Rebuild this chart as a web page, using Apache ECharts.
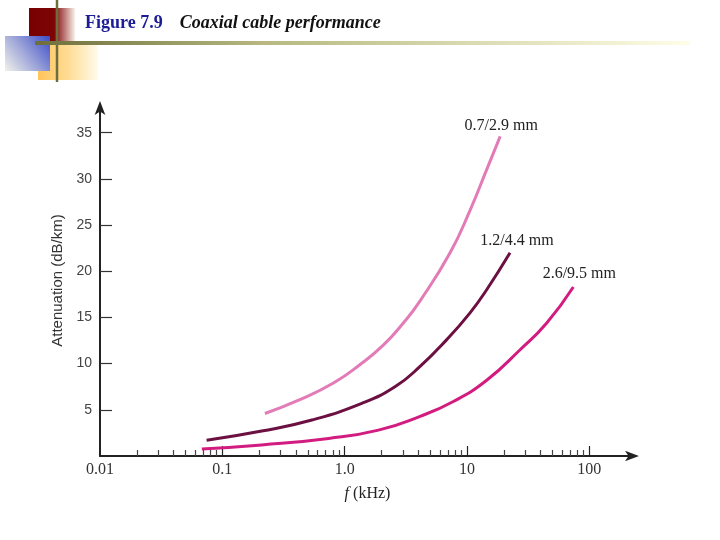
<!DOCTYPE html>
<html><head><meta charset="utf-8">
<script src="https://cdn.jsdelivr.net/npm/echarts@6/dist/echarts.min.js"></script>
<style>html,body{margin:0;padding:0;background:#fff}#c{width:720px;height:540px}</style>
</head><body><div id="c"></div>
<script>
// ---- data ----
const seriesNames = ['0.7/2.9 mm', '1.2/4.4 mm', '2.6/9.5 mm'];
const freqA = [0.223, 0.43, 0.81, 1.34, 2.07, 3.02, 4.14, 7.28, 10.6, 14.5, 18.7];
const attA  = [4.6, 6.1, 7.9, 9.9, 12.0, 14.4, 16.8, 22.0, 26.6, 31.0, 34.6];
const freqB = [0.0744, 0.21, 0.54, 1.38, 2.58, 4.14, 6.84, 10.6, 14.5, 22.5];
const attB  = [1.7, 2.7, 3.9, 5.7, 7.5, 9.7, 12.6, 15.5, 18.0, 22.0];
const freqC = [0.068, 0.21, 0.74, 1.89, 4.14, 7.74, 14.5, 27.2, 44.9, 74.1];
const attC  = [0.76, 1.2, 1.9, 2.8, 4.3, 5.9, 8.2, 11.5, 14.4, 18.3];
const xMajorTicks = [0.01, 0.1, 1, 10, 100];
const xMinorTicks = [0.02,0.03,0.04,0.05,0.06,0.07,0.08,0.09,
                     0.2,0.3,0.4,0.5,0.6,0.7,0.8,0.9,
                     2,3,4,5,6,7,8,9,
                     20,30,40,50,60,70,80,90];
const yTicks = [5, 10, 15, 20, 25, 30, 35];
const titleNum = 'Figure 7.9';
const titleText = 'Coaxial cable performance';
const yName = 'Attenuation (dB/km)';

const colors = ['#e27bb6', '#6c1042', '#d31c80'];
const labelOffsets = [[1, -3], [7, -4], [6, -5]];
const pairs = (fs, as) => fs.map((f, i) => [f, as[i]]);
const datasets = [pairs(freqA, attA), pairs(freqB, attB), pairs(freqC, attC)];

const chart = echarts.init(document.getElementById('c'));
const X_MIN = 0.01, X_MAX = 236.6;

chart.setOption({
  animation: false,
  backgroundColor: '#fff',
  title: {
    left: 85, top: 14, padding: 0,
    text: '{a|' + titleNum + '}{b|' + titleText + '}',
    textStyle: {
      rich: {
        a: { fontFamily: 'Liberation Serif', fontSize: 18, fontWeight: 'bold', color: '#1c1c96', padding: [0, 17, 0, 0] },
        b: { fontFamily: 'Liberation Serif', fontSize: 18, fontStyle: 'italic', color: '#111' }
      }
    }
  },
  graphic: [
    { type: 'rect', z: 1, shape: { x: 38, y: 44, width: 60, height: 36 },
      style: { fill: new echarts.graphic.LinearGradient(0, 0, 1, 0, [
        { offset: 0, color: '#ffc45a' }, { offset: 0.5, color: '#ffdc94' }, { offset: 1, color: '#fffbea' }]) } },
    { type: 'rect', z: 2, shape: { x: 29, y: 8, width: 46, height: 35 },
      style: { fill: new echarts.graphic.LinearGradient(0, 0, 1, 0, [
        { offset: 0, color: '#7a0000' }, { offset: 0.55, color: '#7d0505' }, { offset: 1, color: '#fbf0ea' }]) } },
    { type: 'rect', z: 3, shape: { x: 5, y: 36, width: 45, height: 35 },
      style: { fill: new echarts.graphic.LinearGradient(1, 0, 0, 1, [
        { offset: 0, color: '#3b4bc8' }, { offset: 0.5, color: '#9aa2d8' }, { offset: 1, color: '#f2f2ea' }]) } },
    { type: 'line', z: 4, shape: { x1: 57, y1: 0, x2: 57, y2: 82 },
      style: { stroke: '#6e6e3c', lineWidth: 2.5 } },
    { type: 'rect', z: 4, shape: { x: 35, y: 41, width: 655, height: 4 },
      style: { fill: new echarts.graphic.LinearGradient(0, 0, 1, 0, [
        { offset: 0, color: '#6e6e3c' }, { offset: 0.35, color: '#b8b880' }, { offset: 1, color: '#fffde6' }]) } }
  ],
  grid: { left: 100, top: 105, right: 85, bottom: 84, containLabel: false },
  xAxis: [
    {
      type: 'log', logBase: 10, min: X_MIN, max: X_MAX,
      name: '{i|f} (kHz)', nameLocation: 'middle', nameGap: 30,
      nameTextStyle: { fontFamily: 'Liberation Serif', fontSize: 16, color: '#222',
        rich: { i: { fontFamily: 'Liberation Serif', fontStyle: 'italic', fontSize: 16, color: '#222' } } },
      axisLine: { show: true, lineStyle: { color: '#222', width: 2 }, symbol: ['none', 'arrow'], symbolSize: [8, 14], symbolOffset: [0, 4] },
      axisTick: { show: true, inside: true, length: 10, lineStyle: { color: '#222', width: 1.2 }, customValues: xMajorTicks.slice(1) },
      axisLabel: { show: true, margin: 6, fontFamily: 'Liberation Serif', fontSize: 16, color: '#333',
        customValues: xMajorTicks, formatter: v => (Math.abs(v - 1) < 1e-9 ? '1.0' : String(+v.toPrecision(3))) },
      splitLine: { show: false }, minorTick: { show: false }
    },
    {
      type: 'log', logBase: 10, min: X_MIN, max: X_MAX, position: 'bottom',
      axisLine: { show: false },
      axisTick: { show: true, inside: true, length: 6, lineStyle: { color: '#444', width: 1.2 }, customValues: xMinorTicks },
      axisLabel: { show: false }, splitLine: { show: false }
    }
  ],
  yAxis: {
    type: 'value', min: 0, max: 38, interval: 5,
    name: yName, nameLocation: 'middle', nameGap: 34,
    nameTextStyle: { fontFamily: 'Liberation Sans', fontSize: 15, color: '#333' },
    axisLine: { show: true, lineStyle: { color: '#222', width: 2 }, symbol: ['none', 'arrow'], symbolSize: [8, 14], symbolOffset: [0, 4] },
    axisTick: { show: true, inside: true, length: 12, lineStyle: { color: '#333', width: 1.2 }, customValues: yTicks },
    axisLabel: { show: true, margin: 8, fontFamily: 'Liberation Sans', fontSize: 14, color: '#444', customValues: yTicks },
    splitLine: { show: false }
  },
  series: datasets.map((d, i) => ({
    type: 'line', name: seriesNames[i], data: d, xAxisIndex: 0, yAxisIndex: 0,
    smooth: 0.5, showSymbol: false, symbol: 'none',
    lineStyle: { color: colors[i], width: 3 },
    endLabel: { show: true, formatter: seriesNames[i], align: 'center', verticalAlign: 'bottom',
      distance: 0, offset: labelOffsets[i], fontFamily: 'Liberation Serif', fontSize: 16, color: '#222' }
  }))
});
</script>
</body></html>
